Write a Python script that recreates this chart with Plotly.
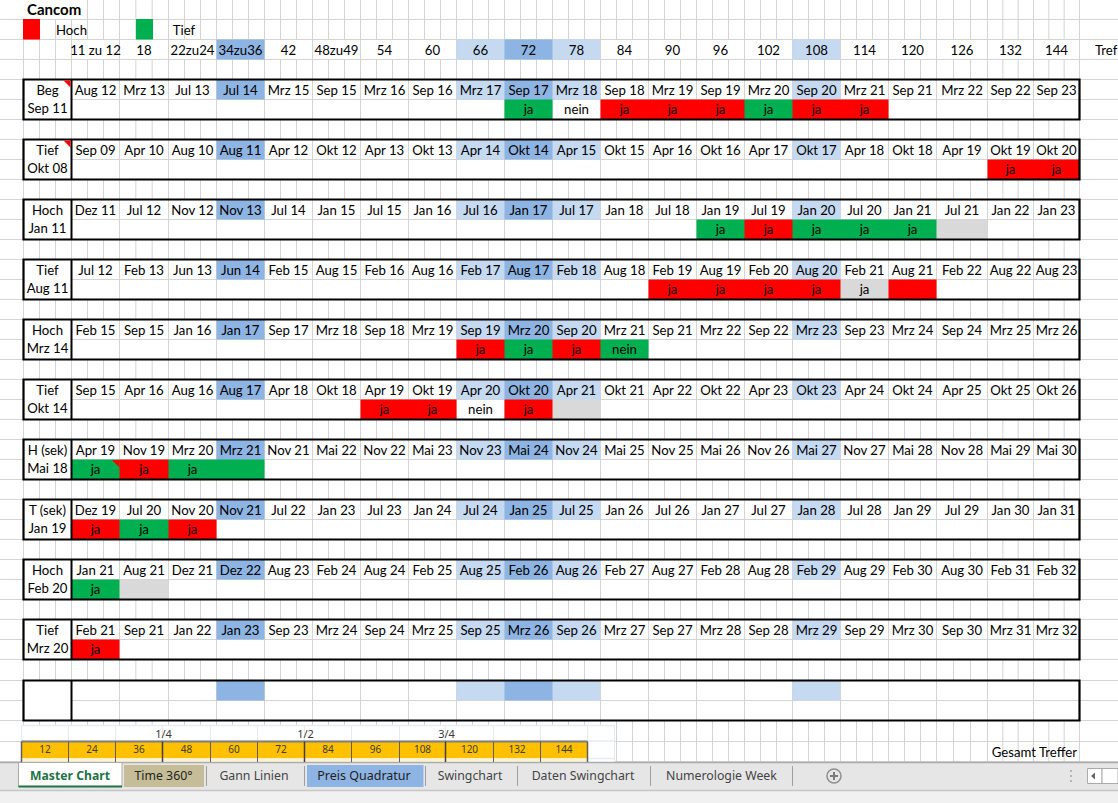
import plotly.graph_objects as go

# ---------- data read from the sheet ----------
title = "Cancom"
legend_labels = ["Hoch", "Tief"]
header_labels = ["11 zu 12", "18", "22zu24", "34zu36", "42", "48zu49", "54", "60", "66", "72", "78",
                 "84", "90", "96", "102", "108", "114", "120", "126", "132", "144"]
shade_light = [8, 10, 15]
shade_dark = [3, 9]

kinds = ["Beg", "Tief", "Hoch", "Tief", "Hoch", "Tief", "H (sek)", "T (sek)", "Hoch", "Tief", ""]
starts = ["Sep 11", "Okt 08", "Jan 11", "Aug 11", "Mrz 14", "Okt 14", "Mai 18", "Jan 19", "Feb 20", "Mrz 20", ""]

d1 = "Aug 12,Mrz 13,Jul 13,Jul 14,Mrz 15,Sep 15,Mrz 16,Sep 16,Mrz 17,Sep 17,Mrz 18,Sep 18,Mrz 19,Sep 19,Mrz 20,Sep 20,Mrz 21,Sep 21,Mrz 22,Sep 22,Sep 23".split(",")
d2 = "Sep 09,Apr 10,Aug 10,Aug 11,Apr 12,Okt 12,Apr 13,Okt 13,Apr 14,Okt 14,Apr 15,Okt 15,Apr 16,Okt 16,Apr 17,Okt 17,Apr 18,Okt 18,Apr 19,Okt 19,Okt 20".split(",")
d3 = "Dez 11,Jul 12,Nov 12,Nov 13,Jul 14,Jan 15,Jul 15,Jan 16,Jul 16,Jan 17,Jul 17,Jan 18,Jul 18,Jan 19,Jul 19,Jan 20,Jul 20,Jan 21,Jul 21,Jan 22,Jan 23".split(",")
d4 = "Jul 12,Feb 13,Jun 13,Jun 14,Feb 15,Aug 15,Feb 16,Aug 16,Feb 17,Aug 17,Feb 18,Aug 18,Feb 19,Aug 19,Feb 20,Aug 20,Feb 21,Aug 21,Feb 22,Aug 22,Aug 23".split(",")
d5 = "Feb 15,Sep 15,Jan 16,Jan 17,Sep 17,Mrz 18,Sep 18,Mrz 19,Sep 19,Mrz 20,Sep 20,Mrz 21,Sep 21,Mrz 22,Sep 22,Mrz 23,Sep 23,Mrz 24,Sep 24,Mrz 25,Mrz 26".split(",")
d6 = "Sep 15,Apr 16,Aug 16,Aug 17,Apr 18,Okt 18,Apr 19,Okt 19,Apr 20,Okt 20,Apr 21,Okt 21,Apr 22,Okt 22,Apr 23,Okt 23,Apr 24,Okt 24,Apr 25,Okt 25,Okt 26".split(",")
d7 = "Apr 19,Nov 19,Mrz 20,Mrz 21,Nov 21,Mai 22,Nov 22,Mai 23,Nov 23,Mai 24,Nov 24,Mai 25,Nov 25,Mai 26,Nov 26,Mai 27,Nov 27,Mai 28,Nov 28,Mai 29,Mai 30".split(",")
d8 = "Dez 19,Jul 20,Nov 20,Nov 21,Jul 22,Jan 23,Jul 23,Jan 24,Jul 24,Jan 25,Jul 25,Jan 26,Jul 26,Jan 27,Jul 27,Jan 28,Jul 28,Jan 29,Jul 29,Jan 30,Jan 31".split(",")
d9 = "Jan 21,Aug 21,Dez 21,Dez 22,Aug 23,Feb 24,Aug 24,Feb 25,Aug 25,Feb 26,Aug 26,Feb 27,Aug 27,Feb 28,Aug 28,Feb 29,Aug 29,Feb 30,Aug 30,Feb 31,Feb 32".split(",")
d10 = "Feb 21,Sep 21,Jan 22,Jan 23,Sep 23,Mrz 24,Sep 24,Mrz 25,Sep 25,Mrz 26,Sep 26,Mrz 27,Sep 27,Mrz 28,Sep 28,Mrz 29,Sep 29,Mrz 30,Sep 30,Mrz 31,Mrz 32".split(",")
d11 = [""] * 21
block_dates = [d1, d2, d3, d4, d5, d6, d7, d8, d9, d10, d11]

# status per column: . empty, r red, g green, x grey, w white
f1 = ".........gwrrrgrr...."
f2 = "...................rr"
f3 = ".............grgggx.."
f4 = "............rrrrxr..."
f5 = "........rgrg........."
f6 = "......rrwrx.........."
f7 = "grgg................."
f8 = "rgr.................."
f9 = "gx..................."
f10 = "r...................."
f11 = "....................."
block_fills = [f1, f2, f3, f4, f5, f6, f7, f8, f9, f10, f11]

m1 = {9: "ja", 10: "nein", 11: "ja", 12: "ja", 13: "ja", 14: "ja", 15: "ja", 16: "ja"}
m2 = {19: "ja", 20: "ja"}
m3 = {13: "ja", 14: "ja", 15: "ja", 16: "ja", 17: "ja"}
m4 = {12: "ja", 13: "ja", 14: "ja", 15: "ja", 16: "ja"}
m5 = {8: "ja", 9: "ja", 10: "ja", 11: "nein"}
m6 = {6: "ja", 7: "ja", 8: "nein", 9: "ja"}
m7 = {0: "ja", 1: "ja", 2: "ja"}
m8 = {0: "ja", 1: "ja", 2: "ja"}
m9 = {0: "ja"}
m10 = {0: "ja"}
m11 = {}
block_marks = [m1, m2, m3, m4, m5, m6, m7, m8, m9, m10, m11]

gold_labels = ["12", "24", "36", "48", "60", "72", "84", "96", "108", "120", "132", "144"]
quarter_labels = {2: "1/4", 5: "1/2", 8: "3/4"}
tabs_plain = ["Gann Linien", "Swingchart", "Daten Swingchart", "Numerologie Week"]

# ---------- sheet geometry ----------
W, H = 1118, 803
FONT = "Lato"
UI = "Noto Sans"
GRID = "#d4d4d4"
col_edges = [71.5, 119.5, 168.5, 216.5, 264.5, 312.5, 360.5, 408.5, 456.5, 504.5, 552.5, 600.5, 648.5,
             696.5, 744.5, 792.5, 840.5, 888.5, 936.5, 987.5, 1033.5, 1079.5]
row_lines = [19.5 + 20 * i for i in range(33)] + [680.5, 700.5, 720.5, 741.5, 761.5]
block_tops = [79.5 + 60 * i for i in range(10)] + [680.5]
block_bots = [119.5 + 60 * i for i in range(10)] + [720.5]
block_mids = [99.5 + 60 * i for i in range(10)] + [700.5]
gold_edges = [21.5, 68.5, 115.5, 162.5, 210.5, 257.5, 304.5, 351.5, 399.5, 445.5, 493.5, 540.5, 587.5]

sub_edges = [23.5, 39.5, 55.5]
for a, b in zip(col_edges[:-1], col_edges[1:]):
    sub_edges += [a, a + (b - a) / 3, a + 2 * (b - a) / 3]
sub_edges.append(col_edges[-1])
centers = [(a + b) / 2 for a, b in zip(col_edges[:-1], col_edges[1:])]

shapes = []


def rect(x0, y0, x1, y1, fill, line=None, lw=0, layer="below"):
    shapes.append(dict(type="rect", xref="x", yref="y", x0=x0, y0=y0, x1=x1, y1=y1, fillcolor=fill,
                       line=dict(color=line or fill, width=lw), layer=layer))


def seg(x0, y0, x1, y1, color=GRID, lw=1, layer="below"):
    shapes.append(dict(type="line", xref="x", yref="y", x0=x0, y0=y0, x1=x1, y1=y1,
                       line=dict(color=color, width=lw), layer=layer))


def tri(x0, y0, x1, y1):
    shapes.append(dict(type="path", xref="x", yref="y", path=f"M{x0},{y0} L{x1},{y0} L{x1},{y1} Z",
                       fillcolor="#ff0000", line=dict(width=0), layer="above"))


# base 16-px grid
for y in row_lines:
    seg(0, y, W, y)
for x in sub_edges:
    seg(x, 0 if x > 80 else 19.5, x, 762)

# header row: merged cells
rect(col_edges[0], 40, col_edges[-1], 59, "#ffffff")
for x in col_edges:
    seg(x, 39.5, x, 59.5)

# legend swatches
rect(23, 19, 40, 39.5, "#ff0000")
rect(136, 19, 153, 39.5, "#00b050")

# blocks: merged cells
for t, m, b in zip(block_tops, block_mids, block_bots):
    rect(23.5, t, col_edges[-1], b, "#ffffff")
    seg(col_edges[0], m, col_edges[-1], m)
    for x in col_edges:
        seg(x, t, x, b)

# embedded strip at the bottom
rect(21.5, 725, 614.5, 762, "#ffffff")
for y in (725.5, 741):
    seg(21.5, y, 614.5, y, "#e6ecf6", 1.5)
seg(587.5, 758.5, 614.5, 758.5, "#e6ecf6", 1.5)
seg(614.5, 725, 614.5, 762, "#e6ecf6", 1)
for x in gold_edges:
    seg(x, 725.5, x, 741, "#e6ecf6", 1)
rect(21.5, 758, 587.5, 761.5, "#fff2cc")

# tab bar
rect(0, 762, W, 790.5, "#e6e6e6")
rect(0, 790.5, W, H, "#f1f1f1")
seg(0, 762.5, W, 762.5, "#ababab", 1.5)
seg(0, 790.5, W, 790.5, "#c6c6c6", 1.5)
rect(18.5, 763, 122, 787, "#ffffff")
seg(18.5, 763, 18.5, 787, "#ababab")
seg(122, 763, 122, 787, "#ababab")
seg(18.5, 786.5, 122, 786.5, "#217346", 2)
rect(124, 765, 204, 787, "#c4bd97")
rect(307, 765, 423.5, 787, "#8eb4e3")
for x in (206.5, 304.5, 425.5, 517.5, 650.5, 792.5):
    seg(x, 766, x, 786, "#9f9f9f", 1)
shapes.append(dict(type="circle", xref="x", yref="y", x0=827, y0=769, x1=841, y1=783,
                   fillcolor="rgba(0,0,0,0)", line=dict(color="#8f8f8f", width=1.5), layer="below"))
seg(830, 776, 838, 776, "#7a7a7a", 2)
seg(834, 772, 834, 780, "#7a7a7a", 2)
for y in (771, 776, 781):
    rect(1070, y - 1, 1072, y + 1, "#b5b5b5")
rect(1087.5, 768.5, 1102, 783.5, "#ffffff", "#ababab", 1)
rect(1102, 768.5, W, 783.5, "#ffffff", "#ababab", 1)
shapes.append(dict(type="path", xref="x", yref="y", path="M1091,776 L1095,772.5 L1095,779.5 Z",
                   fillcolor="#666666", line=dict(width=0), layer="below"))

# thick outlines, above the fills
for t, b in zip(block_tops, block_bots):
    rect(23.5, t, col_edges[-1], b, "rgba(0,0,0,0)", "#000000", 2.2, "above")
    seg(col_edges[0], t, col_edges[0], b, "#000000", 2, "above")
for t in block_tops[:2]:
    tri(63.5, t + 1, 70.5, t + 8)
tri(112, block_mids[6] + 0.5, 119.5, block_mids[6] + 8)
# gold strip dark rules
seg(gold_edges[0], 741.5, gold_edges[-1], 741.5, "#7f7f7f", 2, "above")
for i, x in enumerate(gold_edges):
    seg(x, 741.5, x, 762, "#404040" if i % 3 == 0 and 0 < i < 12 else "#5f5f5f", 1.5 if i % 3 == 0 else 1, "above")

# ---------- heat cells ----------
code = {"r": 2, "g": 3, "x": 4}
y_edges = [39.5, 59.5]
z = [[None] * 21]
for j in shade_light:
    z[0][j] = 0
for j in shade_dark:
    z[0][j] = 1
header_shade = z[0]
y_prev = 59.5
for t, m, b, fills in zip(block_tops, block_mids, block_bots, block_fills):
    if t != y_prev:
        y_edges.append(t)
        z.append([None] * 21)
    y_edges += [m, b]
    z.append(list(header_shade))
    z.append([code.get(c) for c in fills])
    y_prev = b

colorscale = [[0, "#c5d9f1"], [0.2, "#c5d9f1"], [0.2, "#8db4e2"], [0.4, "#8db4e2"], [0.4, "#ff0000"],
              [0.6, "#ff0000"], [0.6, "#00b050"], [0.8, "#00b050"], [0.8, "#d9d9d9"], [1, "#d9d9d9"]]

fig = go.Figure()
fig.add_trace(go.Heatmap(x=col_edges, y=y_edges, z=z, zmin=-0.5, zmax=4.5, colorscale=colorscale,
                         showscale=False, hoverinfo="skip", zsmooth=False))
fig.add_trace(go.Heatmap(x=gold_edges, y=[742, 758], z=[[1] * 12], zmin=0, zmax=1,
                         colorscale=[[0, "#ffc000"], [1, "#ffc000"]], showscale=False, hoverinfo="skip"))


def texts(xs, ys, labels, size=13.2, color="#000000", family=FONT, pos="middle center", weight="normal"):
    fig.add_trace(go.Scatter(x=xs, y=ys, text=labels, mode="text", textposition=pos, hoverinfo="skip",
                             textfont=dict(family=family, size=size, color=color, weight=weight)))


# dates and status words
dx, dy, dt, mx, my, mt = [], [], [], [], [], []
for t, m, dates, marks in zip(block_tops, block_mids, block_dates, block_marks):
    for j, lab in enumerate(dates):
        if lab:
            dx.append(centers[j]); dy.append(t + 12.5); dt.append(lab)
    for j, lab in marks.items():
        mx.append(centers[j]); my.append(m + 11); mt.append(lab)
texts(dx, dy, dt)
texts(mx, my, mt)
# left column
texts([47.5] * 10, [t + 12.5 for t in block_tops[:10]], kinds[:10])
texts([47.5] * 10, [m + 10 for m in block_mids[:10]], starts[:10])
# header
texts(centers, [51.5] * 21, header_labels)
texts([1095], [51.5], ["Tref"], pos="middle right")
# title and legend
texts([27], [11], [title], size=15, pos="middle right", weight="bold")
texts([71.5, 184], [32, 32], legend_labels)
# gold strip
gold_centers = [(a + b) / 2 for a, b in zip(gold_edges[:-1], gold_edges[1:])]
texts(gold_centers, [750.5] * 12, gold_labels, size=10, color="#3a3a3a", family=UI)
texts([gold_edges[i] + (gold_edges[i + 1] - gold_edges[i]) + 1 for i in quarter_labels],
      [735] * 3, list(quarter_labels.values()), size=11, color="#3a3a3a", family=UI)
texts([1077], [753.5], ["Gesamt Treffer"], pos="middle left")
# tabs
texts([70], [777], ["Master Chart"], size=12.2, color="#217346", weight="bold", family=UI)
texts([163.5], [777], ["Time 360°"], size=12.3, color="#222222", family=UI)
texts([364], [777], ["Preis Quadratur"], size=12.5, color="#222222", family=UI)
texts([254, 470, 583, 721.5], [777] * 4, tabs_plain, size=12.3, color="#444444", family=UI)

axis = dict(visible=False, showgrid=False, zeroline=False, fixedrange=True)
fig.update_layout(width=W, height=H, margin=dict(l=0, r=0, t=0, b=0), showlegend=False,
                  paper_bgcolor="#ffffff", plot_bgcolor="#ffffff", shapes=shapes,
                  xaxis=dict(range=[0, W], domain=[0, 1], **axis),
                  yaxis=dict(range=[H, 0], domain=[0, 1], **axis))

fig.write_html("out.html", config=dict(displayModeBar=False),
               post_script="document.body.style.margin='0';document.body.style.overflow='hidden';")
